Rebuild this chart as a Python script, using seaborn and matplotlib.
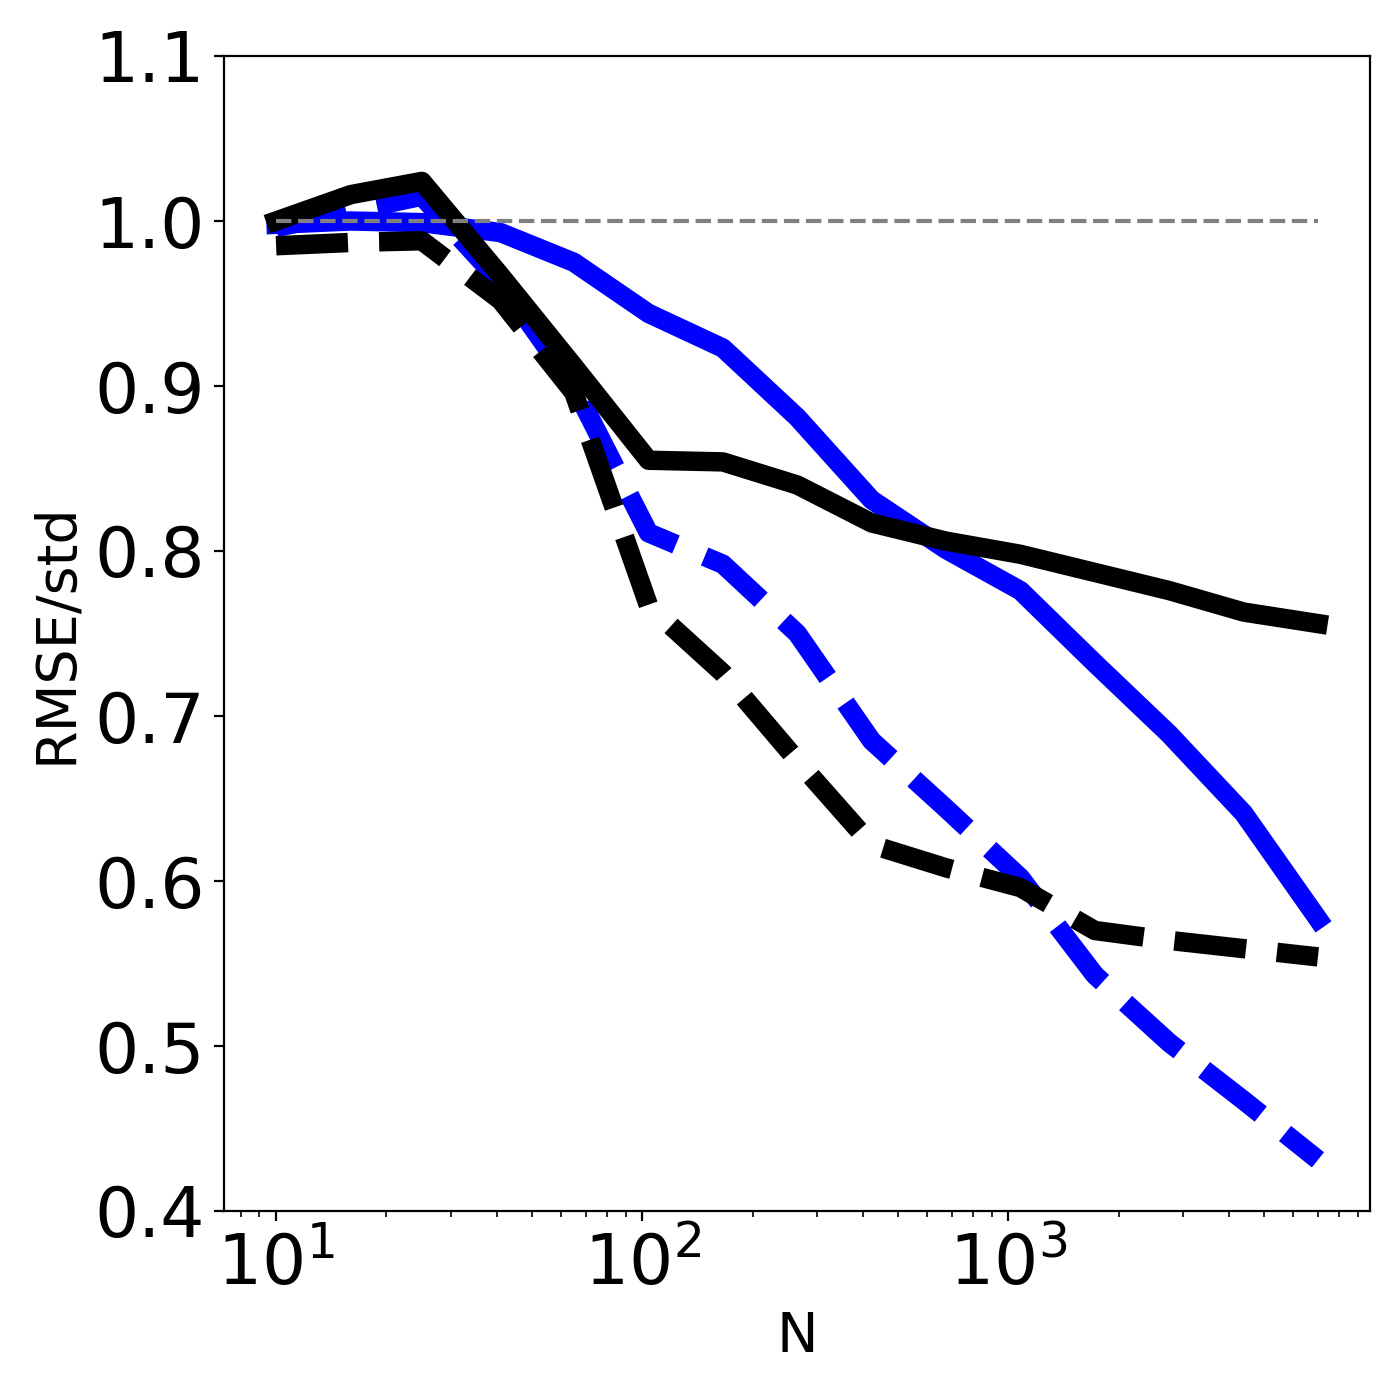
import matplotlib
matplotlib.use("Agg")
import matplotlib.pyplot as plt
import seaborn as sns
import pandas as pd

# sample sizes (log-spaced)
N = [10, 16, 25, 41, 65, 104, 166, 265, 423, 675, 1078, 1721, 2748, 4388, 7000]

# RMSE/std per method
black_solid = [1.000, 1.016, 1.024, 0.967, 0.912, 0.855, 0.854, 0.840, 0.817,
               0.806, 0.798, 0.787, 0.776, 0.763, 0.756]
black_dashed = [0.985, 0.987, 0.988, 0.952, 0.896, 0.767, 0.726, 0.673, 0.622,
                0.608, 0.596, 0.570, 0.564, 0.559, 0.554]
blue_solid = [0.998, 1.000, 0.999, 0.993, 0.975, 0.944, 0.923, 0.881, 0.831,
              0.801, 0.776, 0.732, 0.689, 0.641, 0.577]
blue_dashed = [0.996, 1.006, 1.015, 0.963, 0.900, 0.811, 0.792, 0.750, 0.685,
               0.644, 0.602, 0.543, 0.502, 0.467, 0.431]

ref_x = [N[0], N[-1]]
ref_y = [1.0, 1.0]

df = pd.DataFrame({"N": N, "bs": black_solid, "bd": black_dashed,
                   "us": blue_solid, "ud": blue_dashed})

fig = plt.figure(figsize=(7, 7), dpi=200)
ax = fig.add_axes([0.16, 0.135, 0.8186, 0.825])

sns.lineplot(data=df, x="N", y="us", color="blue", linewidth=7, ax=ax)
sns.lineplot(data=df, x="N", y="ud", color="blue", linewidth=7, linestyle="--", ax=ax)
sns.lineplot(data=df, x="N", y="bs", color="black", linewidth=7, ax=ax)
sns.lineplot(data=df, x="N", y="bd", color="black", linewidth=7, linestyle="--", ax=ax)
sns.lineplot(x=ref_x, y=ref_y, color="gray", linewidth=1.5, linestyle="--", ax=ax)

ax.set_xscale("log")
ax.set_ylim(0.4, 1.1)
ax.set_yticks([0.4, 0.5, 0.6, 0.7, 0.8, 0.9, 1.0, 1.1])
ax.tick_params(labelsize=25)
ax.set_xlabel("N", fontsize=20)
ax.set_ylabel("RMSE/std", fontsize=20)

fig.savefig("out.png", dpi=200)
plt.close(fig)
